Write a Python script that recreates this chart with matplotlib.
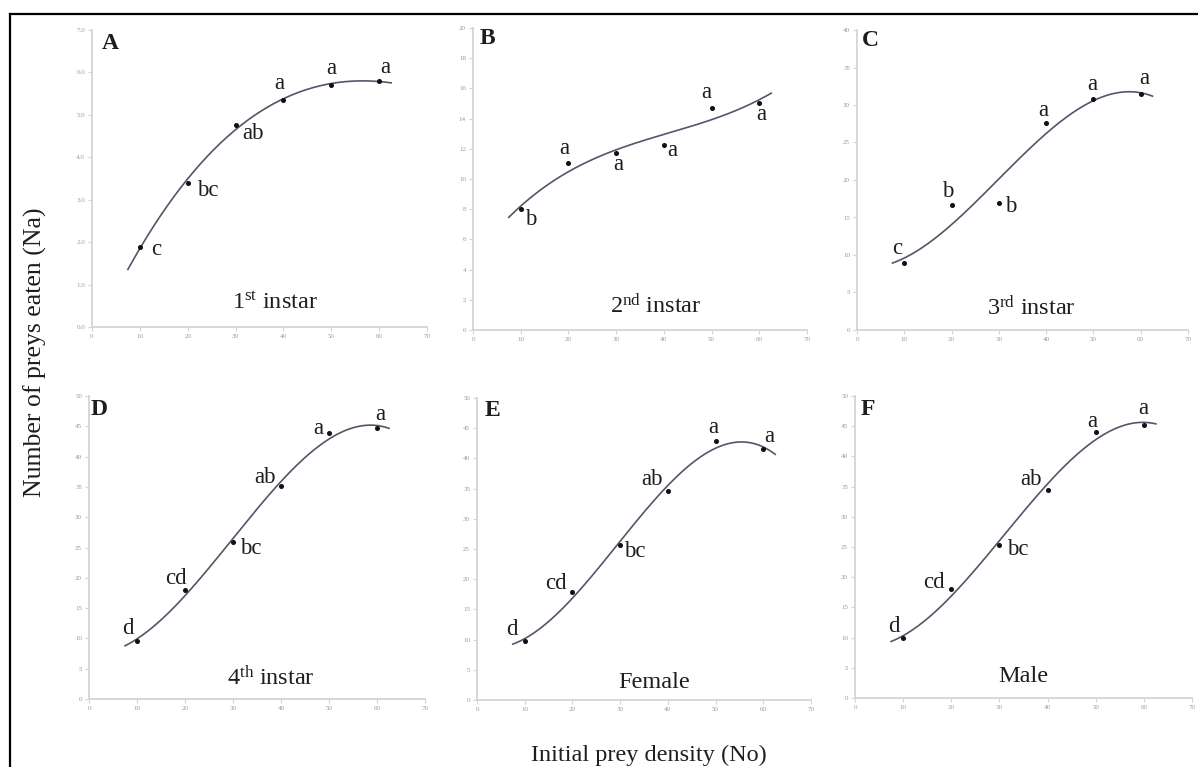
import matplotlib
matplotlib.use('Agg')
import matplotlib.pyplot as plt
import numpy as np
from matplotlib.lines import Line2D

plt.rcParams['font.family'] = ['Liberation Serif', 'DejaVu Serif']
plt.rcParams['mathtext.fontset'] = 'custom'
plt.rcParams['mathtext.rm'] = 'Liberation Serif'
plt.rcParams['mathtext.it'] = 'Liberation Serif:italic'
plt.rcParams['mathtext.bf'] = 'Liberation Serif:bold'

# ---------------- data ----------------
density = [10, 20, 30, 40, 50, 60]

na_1st = [1.88, 3.39, 4.77, 5.35, 5.71, 5.80]
na_2nd = [8.0, 11.06, 11.7, 12.27, 14.73, 15.0]
na_3rd = [8.9, 16.6, 16.9, 27.6, 30.8, 31.4]
na_4th = [9.6, 18.0, 25.9, 35.2, 43.9, 44.8]
na_female = [9.8, 17.9, 25.7, 34.6, 42.9, 41.5]
na_male = [9.9, 18.1, 25.3, 34.5, 44.1, 45.2]

letters_1st = ['c', 'bc', 'ab', 'a', 'a', 'a']
letters_2nd = ['b', 'a', 'a', 'a', 'a', 'a']
letters_3rd = ['c', 'b', 'b', 'a', 'a', 'a']
letters_4th = ['d', 'cd', 'bc', 'ab', 'a', 'a']
letters_female = ['d', 'cd', 'bc', 'ab', 'a', 'a']
letters_male = ['d', 'cd', 'bc', 'ab', 'a', 'a']

panel_ids = ['A', 'B', 'C', 'D', 'E', 'F']
stage_names = ['1$^{\\mathrm{st}}$ instar', '2$^{\\mathrm{nd}}$ instar',
               '3$^{\\mathrm{rd}}$ instar', '4$^{\\mathrm{th}}$ instar',
               'Female', 'Male']
y_max = [7, 20, 40, 50, 50, 50]
y_step = [1, 2, 5, 5, 5, 5]
x_ticks = [0, 10, 20, 30, 40, 50, 60, 70]

# ---------------- layout (pixels) ----------------
W, H = 1198, 767
rects_px = [(92, 427, 30, 327), (473, 807, 28, 330), (857, 1188, 30, 330),
            (89, 425, 396, 699), (477, 811, 398, 700), (855, 1192, 396, 698)]
# letter offsets (pixels, dx right, dy up)
offsets_px = [
    [(16, -2), (20, -7), (17, -9), (-4, 17), (0, 16), (6, 13)],
    [(10, -10), (-4, 14), (2, -11), (8, -6), (-5, 15), (2, -11)],
    [(-7, 15), (-4, 14), (12, -3), (-3, 13), (-1, 15), (4, 16)],
    [(-9, 12), (-9, 11), (18, -6), (-16, 8), (-11, 4), (3, 13)],
    [(-13, 11), (-16, 8), (15, -7), (-16, 12), (-2, 13), (6, 13)],
    [(-9, 12), (-17, 6), (18, -4), (-17, 10), (-3, 10), (-1, 16)],
]
panel_letter_pos = [(0.03, 0.956), (0.02, 0.965), (0.015, 0.965),
                    (0.006, 0.957), (0.024, 0.957), (0.018, 0.955)]
stage_pos = [(0.545, 0.06), (0.546, 0.057), (0.526, 0.05),
             (0.54, 0.046), (0.53, 0.04), (0.50, 0.053)]

series = [na_1st, na_2nd, na_3rd, na_4th, na_female, na_male]
letters = [letters_1st, letters_2nd, letters_3rd, letters_4th, letters_female, letters_male]

fig = plt.figure(figsize=(W / 100, H / 100), dpi=100)

curve_color = '#55556a'
axis_color = '#d4d4d4'
text_color = '#1e1e1e'

for i in range(6):
    l, r, t, b = rects_px[i]
    ax = fig.add_axes([l / W, 1 - b / H, (r - l) / W, (b - t) / H])
    x = np.array(density, dtype=float)
    y = np.array(series[i], dtype=float)
    # polynomial trendline fitted to the data (as in the original figure)
    coef = np.polyfit(x, y, 3)
    xs = np.linspace(7.5, 62.5, 200)
    ax.plot(xs, np.polyval(coef, xs), color=curve_color, lw=1.2, zorder=2)
    ax.plot(x, y, 'o', color='#111111', ms=2.6, zorder=3)
    for j in range(6):
        dx, dy = offsets_px[i][j]
        ax.annotate(letters[i][j], (x[j], y[j]), xytext=(dx * 0.72, dy * 0.72),
                    textcoords='offset points', ha='center', va='center',
                    fontsize=16.5, color=text_color)
    ax.set_xlim(0, 70)
    ax.set_ylim(0, y_max[i])
    ax.set_xticks(x_ticks)
    yt = np.arange(0, y_max[i] + 0.001, y_step[i])
    ax.set_yticks(yt)
    if i == 0:
        ax.set_yticklabels(['%.1f' % v for v in yt])
    for s in ['top', 'right']:
        ax.spines[s].set_visible(False)
    for s in ['left', 'bottom']:
        ax.spines[s].set_color(axis_color)
        ax.spines[s].set_linewidth(1.3)
    ax.tick_params(axis='both', length=3, width=0.8, color=axis_color,
                   labelsize=5, labelcolor='#9a9a9a', pad=2)
    ax.set_facecolor('none')
    px, py = panel_letter_pos[i]
    ax.text(px, py, panel_ids[i], transform=ax.transAxes, fontsize=17,
            fontweight='bold', ha='left', va='center', color=text_color)
    sx, sy = stage_pos[i]
    ax.text(sx, sy, stage_names[i], transform=ax.transAxes, fontsize=17.5,
            ha='center', va='baseline', color=text_color)

fig.text(35 / W, 1 - 352 / H, 'Number of preys eaten (Na)', rotation=90,
         ha='center', va='center', fontsize=18.5, color=text_color)
fig.text(649 / W, 1 - 755 / H, 'Initial prey density (No)',
         ha='center', va='center', fontsize=17.5, color=text_color)

# partial black frame (top and left edges)
fig.add_artist(Line2D([10 / W, 10 / W], [1 - 14 / H, 0], color='black', lw=1.6,
                      transform=fig.transFigure))
fig.add_artist(Line2D([10 / W, 1], [1 - 14 / H, 1 - 14 / H], color='black', lw=1.6,
                      transform=fig.transFigure))

fig.savefig('out.png', dpi=100)
